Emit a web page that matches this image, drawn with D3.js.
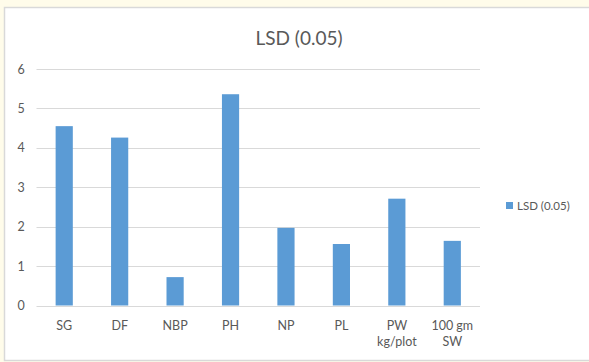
<!DOCTYPE html>
<html><head><meta charset="utf-8">
<script src="https://cdn.jsdelivr.net/npm/d3@7"></script>
<style>
html,body{margin:0;padding:0;background:#fffcea;}
svg{display:block;}
text{font-family:Lato,"Open Sans",sans-serif;fill:#595959;}
</style></head><body>
<svg id="c" width="589" height="362"></svg>
<script>
const categories = ["SG","DF","NBP","PH","NP","PL","PW\nkg/plot","100 gm\nSW"];
const values = [4.55, 4.26, 0.72, 5.36, 1.97, 1.56, 2.71, 1.64];
const yTicks = [0,1,2,3,4,5,6];
const seriesName = "LSD (0.05)";
const title = "LSD (0.05)";

const svg = d3.select("#c");
svg.append("rect").attr("x",4.5).attr("y",7.5).attr("width",600).attr("height",353)
  .attr("fill","#ffffff").attr("stroke","#d9d9d9").attr("stroke-width",1.5);

const x = d3.scaleBand().domain(categories).range([36.5,480]).paddingInner(0.69).paddingOuter(0.345);
const y = d3.scaleLinear().domain([0,6]).range([305.5,69]);

const g = svg.append("g");
g.selectAll("line.grid").data(yTicks).join("line")
  .attr("x1",36.5).attr("x2",480).attr("y1",d=>Math.round(y(d))+0.5).attr("y2",d=>Math.round(y(d))+0.5)
  .attr("stroke","#d9d9d9").attr("stroke-width",1);

const yAxis = d3.axisLeft(y).tickValues(yTicks).tickFormat(d3.format("d")).tickSize(0).tickPadding(0);
const ya = g.append("g").attr("transform","translate(21,0)").call(yAxis);
ya.select(".domain").remove();
ya.selectAll("text").attr("font-size","12.5px").attr("fill","#595959").attr("text-anchor","middle")
  .style("font-family","Lato, 'Open Sans', sans-serif");

g.selectAll("rect.bar").data(values).join("rect")
  .attr("x",(d,i)=>x(categories[i])).attr("width",x.bandwidth())
  .attr("y",d=>y(d)).attr("height",d=>y(0)-y(d)).attr("fill","#5b9bd5");

const xAxis = d3.axisBottom(x).tickSize(0).tickPadding(0).tickFormat("");
const xa = g.append("g").attr("transform","translate(0,305.5)").call(xAxis);
xa.select(".domain").remove();
xa.selectAll(".tick").each(function(d){
  const t = d3.select(this).append("text").attr("text-anchor","middle").attr("font-size","12.5px").attr("fill","#595959");
  d.split("\n").forEach((s,k)=>t.append("tspan").attr("x",0).attr("y",24+k*16).text(s));
});

svg.append("text").attr("x",299).attr("y",45).attr("text-anchor","middle").attr("font-size","19px").text(title);

svg.append("rect").attr("x",506).attr("y",202).attr("width",7).attr("height",7).attr("fill","#5b9bd5");
svg.append("text").attr("x",517).attr("y",209.5).attr("font-size","11.5px").text(seriesName);
</script>
</body></html>
